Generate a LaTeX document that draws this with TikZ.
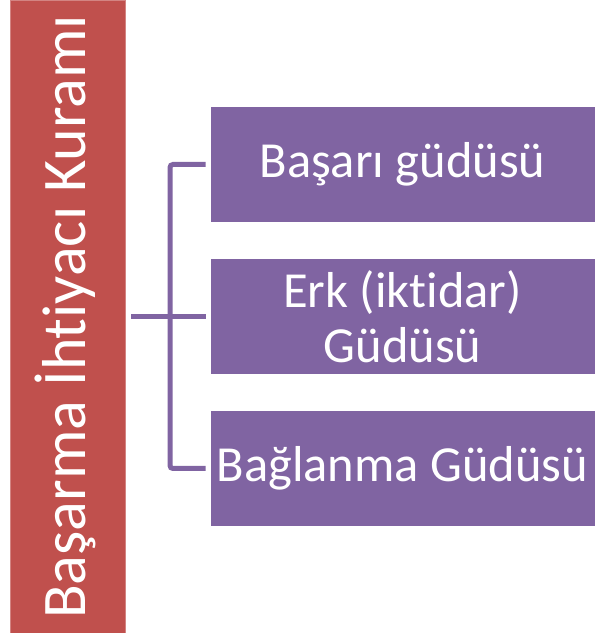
\documentclass[tikz,border=0pt]{standalone}
\usepackage{fontspec}
\setmainfont{Carlito}[Ligatures=NoCommon]
\definecolor{tred}{HTML}{C0504D}
\definecolor{tpurple}{HTML}{8064A2}
\begin{document}
\begin{tikzpicture}[x=1pt,y=1pt,
  titlebox/.style={fill=tred,draw=tred!70!white,line width=0.8pt,minimum width=115pt,minimum height=633pt,inner sep=0pt},
  titletxt/.style={text=white,font=\fontsize{62}{70}\selectfont,rotate=90,inner sep=0pt},
  itembox/.style={fill=tpurple,draw=white,line width=0.8pt,minimum width=385pt,minimum height=116pt,inner sep=0pt,text=white,align=center,font=\fontsize{50.5}{55}\selectfont},
  link/.style={draw=tpurple,line width=5pt,rounded corners=3pt}]
\useasboundingbox (0,0) rectangle (595,633);
\node[titlebox] (title) at (67.5,316.5) {};
\node[titletxt] (titletext) at (65,316) {Başarma İhtiyacı Kuramı};
\node[itembox] (b1) at (402.5,468.5) {Başarı güdüsü};
\node[itembox] (b2) at (402.5,316.5) {Erk (iktidar)\\Güdüsü};
\node[itembox] (b3) at (402.5,164.5) {Bağlanma Güdüsü};
\coordinate (spine) at (170,316.5);
\draw[link,rounded corners=0pt] ([xshift=6pt]title.east) -- ([xshift=-4pt]b2.west);
\draw[link] ([xshift=-4pt]b1.west) -| (spine) |- ([xshift=-4pt]b3.west);
\end{tikzpicture}
\end{document}
